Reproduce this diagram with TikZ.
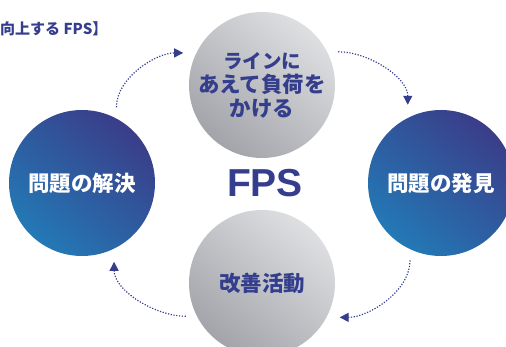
\documentclass[tikz,border=0pt]{standalone}
\usepackage{fontspec}
\setmainfont{Noto Sans CJK JP}
\newfontfamily\fpsfont{Liberation Sans}
\usepackage{tikz}
\usetikzlibrary{positioning,arrows.meta}
\definecolor{navy}{HTML}{343E8D}
\definecolor{deepblue}{HTML}{3A3D89}
\definecolor{brightblue}{HTML}{2379B6}
\definecolor{lightgray}{HTML}{DEDFE1}
\definecolor{darkgray}{HTML}{A2A4AA}

\begin{document}
\begin{tikzpicture}[x=1pt, y=1pt,
bluecircle/.style={circle, minimum size=146pt, inner sep=0pt, top color=deepblue, bottom color=brightblue, shading angle=-40, text=white, font=\bfseries\fontsize{21.5}{24}\selectfont},
graycircle/.style={circle, minimum size=146pt, inner sep=0pt, align=center, top color=lightgray, bottom color=darkgray, shading angle=-40, text=navy, font=\bfseries\fontsize{21.5}{24}\selectfont},
flow/.style={navy, line width=1.2pt, dash pattern=on 1.2pt off 1.6pt, -{Triangle[length=9pt,width=9pt]}, shorten <=11pt, shorten >=13pt},
]
\useasboundingbox (0,0) rectangle (506,-347);

\node[text=navy, font=\fpsfont\bfseries\fontsize{39}{39}\selectfont] (fps) at (265,-183) {FPS};

%Circles
\node[graycircle, above=98pt of fps.center, anchor=center, xshift=-3pt] (load) {\fontsize{19.5}{24}\selectfont ラインに\\あえて負荷を\\かける};
\node[bluecircle, right=176pt of fps.center, anchor=center] (find) {問題の発見};
\node[graycircle, below=100pt of fps.center, anchor=center, xshift=-3pt] (kaizen) {改善活動};
\node[bluecircle, left=183pt of fps.center, anchor=center] (solve) {問題の解決};

%Title
\node[anchor=west, inner sep=0pt, text=navy, font=\bfseries\fontsize{15}{16}\selectfont] (title) at (0,-29) {向上する FPS】};

%Cycle arrows
\draw[flow] (solve.62) to[out=90, in=180] (load.154);
\draw[flow] (load.27) to[out=0, in=90] (find.117);
\draw[flow] (find.245) to[out=270, in=0] (kaizen.-28);
\draw[flow] (kaizen.207) to[out=180, in=270] (solve.-64);
\end{tikzpicture}
\end{document}
